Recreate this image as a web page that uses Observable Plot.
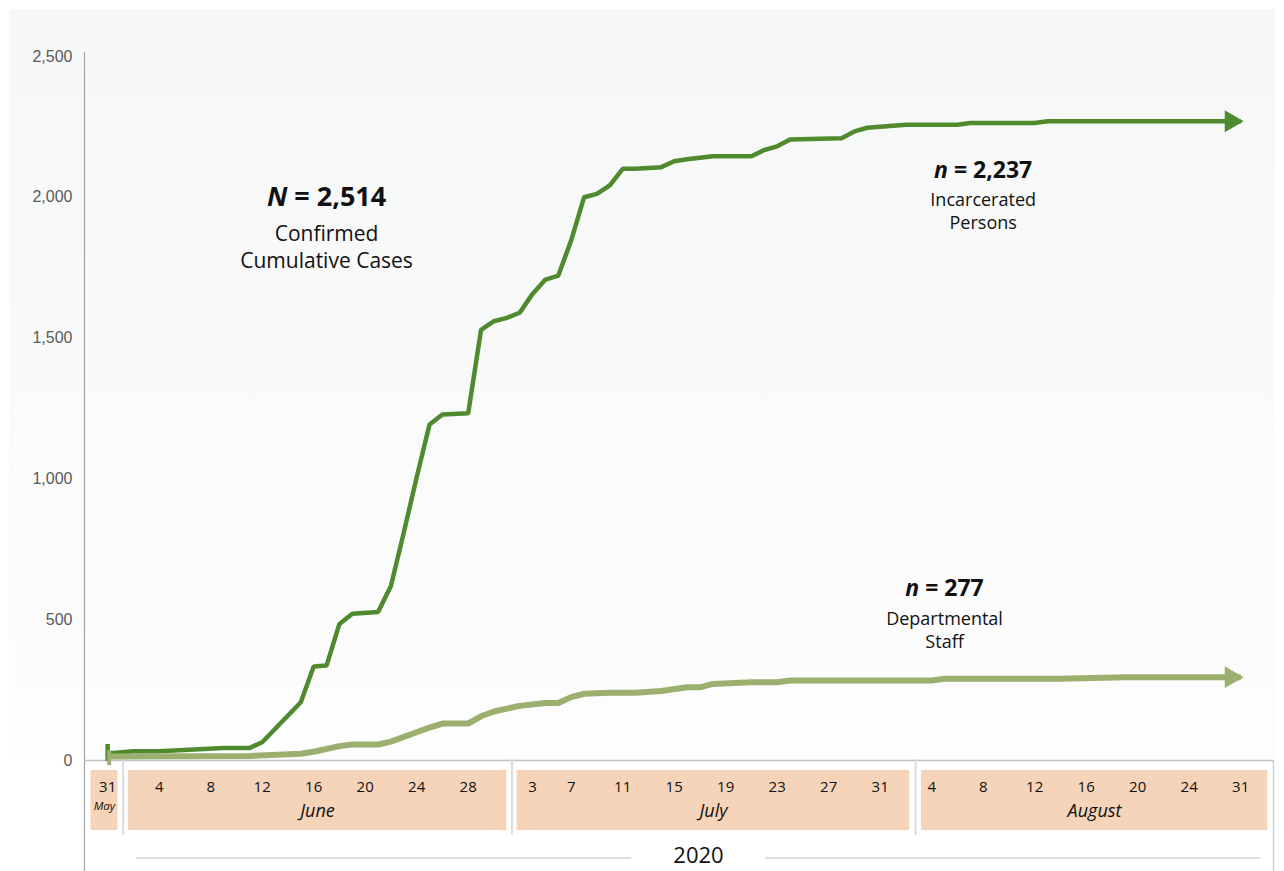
<!DOCTYPE html>
<html><head><meta charset="utf-8">
<script src="https://cdn.jsdelivr.net/npm/d3@7"></script>
<script src="https://cdn.jsdelivr.net/npm/@observablehq/plot@0.6"></script>
<style>
html,body{margin:0;padding:0;background:#fff;}
#wrap{position:relative;width:1284px;height:871px;overflow:hidden;}
#bg{position:absolute;left:9px;top:9px;width:1266px;height:751px;background:linear-gradient(#f6f7f7,#fdfdfd);}
#chart{position:absolute;left:0;top:0;}
</style></head><body>
<div id="wrap"><div id="bg"></div><div id="chart"></div></div>
<script>
// ---- categories: reporting days ----
const firstDay = "2020-05-31", lastDay = "2020-08-31";
const unreportedDays = ["2020-07-04", "2020-08-28", "2020-08-29", "2020-08-30"];

// ---- series: cumulative confirmed cases ----
const incarceratedDates = ["2020-05-31","2020-06-02","2020-06-04","2020-06-09","2020-06-11","2020-06-12","2020-06-15","2020-06-16","2020-06-17","2020-06-18","2020-06-19","2020-06-21","2020-06-22","2020-06-23","2020-06-24","2020-06-25","2020-06-26","2020-06-28","2020-06-29","2020-06-30","2020-07-01","2020-07-02","2020-07-03","2020-07-05","2020-07-06","2020-07-07","2020-07-08","2020-07-09","2020-07-10","2020-07-11","2020-07-12","2020-07-14","2020-07-15","2020-07-16","2020-07-18","2020-07-21","2020-07-22","2020-07-23","2020-07-24","2020-07-28","2020-07-29","2020-07-30","2020-08-02","2020-08-06","2020-08-07","2020-08-12","2020-08-13","2020-08-31"];
const incarceratedValues = [25,33,33,44,44,65,207,334,337,485,521,527,620,810,1006,1193,1229,1233,1529,1560,1572,1590,1657,1708,1722,1847,2000,2012,2042,2101,2101,2107,2128,2135,2146,2146,2168,2181,2205,2210,2234,2247,2258,2258,2264,2264,2270,2270];

const staffDates = ["2020-05-31","2020-06-11","2020-06-15","2020-06-16","2020-06-18","2020-06-19","2020-06-21","2020-06-22","2020-06-25","2020-06-26","2020-06-28","2020-06-29","2020-06-30","2020-07-02","2020-07-05","2020-07-06","2020-07-07","2020-07-08","2020-07-10","2020-07-12","2020-07-14","2020-07-16","2020-07-17","2020-07-18","2020-07-21","2020-07-23","2020-07-24","2020-08-04","2020-08-05","2020-08-14","2020-08-19","2020-08-31"];
const staffValues = [14,16,24,31,51,57,57,67,117,131,131,157,174,194,204,204,225,237,241,241,247,260,260,272,278,278,284,284,290,290,296,296];

// ---- axis labels ----
const yTicks = [0, 500, 1000, 1500, 2000, 2500];
const dayTickDates = ["2020-05-31","2020-06-04","2020-06-08","2020-06-12","2020-06-16","2020-06-20","2020-06-24","2020-06-28","2020-07-03","2020-07-07","2020-07-11","2020-07-15","2020-07-19","2020-07-23","2020-07-27","2020-07-31","2020-08-04","2020-08-08","2020-08-12","2020-08-16","2020-08-20","2020-08-24","2020-08-31"];
const monthNames = ["May", "June", "July", "August"];
const monthBandStart = [-1.3, 1.6, 31.8, 63.2];   // in reporting-day units
const monthBandEnd = [0.8, 31.0, 62.3, 90.1];
const yearLabel = "2020";
const yearSpan = [2.24, 89.54];

// ---- annotations ----
const headDates = ["2020-06-17", "2020-08-08", "2020-08-05"];
const headValues = [2000, 2095, 611];
const headTexts = ["N = 2,514", "n = 2,237", "n = 277"];
const bodyValues = [1827, 1955, 465];
const bodyTexts = ["Confirmed\nCumulative Cases", "Incarcerated\nPersons", "Departmental\nStaff"];

// ---- build ----
const fmtDay = d3.utcFormat("%Y-%m-%d");
const reportDays = d3.utcDay.range(new Date(firstDay), d3.utcDay.offset(new Date(lastDay), 1))
  .map(fmtDay).filter(d => !unreportedDays.includes(d));
const dayIndex = new Map(reportDays.map((d, i) => [d, i]));
const idx = d => dayIndex.get(d);

const incarcerated = incarceratedDates.map((d, i) => ({date: d, value: incarceratedValues[i]}));
const staff = staffDates.map((d, i) => ({date: d, value: staffValues[i]}));
const months = monthNames.map((m, i) => ({month: m, x1: monthBandStart[i], x2: monthBandEnd[i]}));
const separators = months.slice(1).map((m, i) => (months[i].x2 + m.x1) / 2);
const yearCenter = (yearSpan[0] + yearSpan[1]) / 2;
const yearSegments = [{x1: yearSpan[0], x2: yearCenter - 5.2}, {x1: yearCenter + 5.2, x2: yearSpan[1]}];
const heads = headTexts.map((t, i) => ({date: headDates[i], value: headValues[i], text: t, size: i === 0 ? 27 : 23}));
const bodies = bodyTexts.map((t, i) => ({date: headDates[i], value: bodyValues[i], text: t, size: i === 0 ? 21 : 18}));

const DARK = "#4f8a2e", LIGHT = "#9bb06e";
const xDomain = [-1.8, 90.55];
const barSymbol = {draw(ctx, size) { const s = Math.sqrt(size); ctx.rect(-s * 0.32, -s * 1.2, s * 0.64, s * 2.4); }};
const FONT = "Open Sans";

const chart = Plot.plot({
  width: 1284, height: 871,
  marginTop: 56, marginBottom: 111, marginLeft: 84, marginRight: 11,
  style: {background: "transparent", fontFamily: FONT},
  x: {type: "linear", domain: xDomain, axis: null},
  y: {domain: [0, 2500], axis: null},
  marks: [
    // axis frame lines
    Plot.ruleX([xDomain[0]], {stroke: "#a8a8a8", strokeWidth: 1.3, insetTop: -4, insetBottom: -111}),
    Plot.ruleX([xDomain[1]], {stroke: "#cfcfcf", strokeWidth: 1.5, insetTop: 704, insetBottom: -111}),
    Plot.ruleY([0], {stroke: "#c4c4c4", strokeWidth: 1.5}),
    // month table
    Plot.rect(months, {x1: "x1", x2: "x2", insetTop: 714, insetBottom: -70, fill: "#f5d4b9"}),
    Plot.ruleX(separators, {stroke: "#dcdcdc", strokeWidth: 2, insetTop: 703, insetBottom: -75}),
    Plot.text(dayTickDates, {x: d => idx(d), text: d => String(+d.slice(8)), frameAnchor: "bottom", lineAnchor: "middle", dy: 27, fontSize: 15, fill: "#111", fontFamily: FONT}),
    Plot.text(months.slice(1), {x: d => (d.x1 + d.x2) / 2, text: "month", frameAnchor: "bottom", lineAnchor: "middle", dy: 51, fontSize: 18, fontStyle: "italic", fill: "#111", fontFamily: FONT}),
    Plot.text(months.slice(0, 1), {x: d => (d.x1 + d.x2) / 2, text: "month", frameAnchor: "bottom", lineAnchor: "middle", dy: 46, fontSize: 11.5, fontStyle: "italic", fill: "#111", fontFamily: FONT}),
    Plot.rect(yearSegments, {x1: "x1", x2: "x2", insetTop: 801, insetBottom: -99, fill: "#dedede"}),
    Plot.text([yearLabel], {x: () => yearCenter, text: d => d, frameAnchor: "bottom", lineAnchor: "middle", dy: 95, fontSize: 22, fill: "#111", fontFamily: FONT}),
    // y tick labels
    Plot.text(yTicks, {y: d => d, text: d => d3.format(",")(d), frameAnchor: "left", dx: -12, textAnchor: "end", fontSize: 16, fill: "#5a5a5a", fontFamily: "Liberation Sans"}),
    // series
    Plot.line(incarcerated, {x: d => idx(d.date), y: "value", stroke: DARK, strokeWidth: 4.5, strokeLinejoin: "miter", strokeLinecap: "butt"}),
    Plot.line(staff, {x: d => idx(d.date), y: "value", stroke: LIGHT, strokeWidth: 6, strokeLinejoin: "miter", strokeLinecap: "butt"}),
    Plot.dot([incarcerated[incarcerated.length - 1]], {x: d => idx(d.date), y: "value", symbol: "triangle", rotate: 90, r: 8.1, fill: DARK, stroke: null, dx: -9.6}),
    Plot.dot([staff[staff.length - 1]], {x: d => idx(d.date), y: "value", symbol: "triangle", rotate: 90, r: 8.1, fill: LIGHT, stroke: null, dx: -9.6}),
    Plot.dot([incarcerated[0]], {x: d => idx(d.date), y: "value", symbol: barSymbol, r: 4, fill: DARK, stroke: null, dy: -1}),
    Plot.dot([staff[0]], {x: d => idx(d.date), y: "value", symbol: barSymbol, r: 3.5, fill: LIGHT, stroke: null, dx: 1.5, dy: 1}),
    // annotations
    Plot.text(heads, {x: d => idx(d.date), y: "value", text: "text", fontSize: "size", fontWeight: "bold", fill: "#111", fontFamily: FONT}),
    Plot.text(bodies, {x: d => idx(d.date), y: "value", text: "text", fontSize: "size", lineHeight: 1.27, fill: "#111", fontFamily: FONT})
  ]
});

// italicize the N / n variable symbol in the headings
d3.select(chart).selectAll("text").each(function() {
  const t = this.textContent;
  if (/^[Nn] = /.test(t) && this.childElementCount === 0) {
    const sym = t[0], rest = t.slice(1);
    this.textContent = "";
    d3.select(this).append("tspan").attr("font-style", "italic").text(sym);
    d3.select(this).append("tspan").text(rest);
  }
});

document.getElementById("chart").appendChild(chart);
</script>
</body></html>
